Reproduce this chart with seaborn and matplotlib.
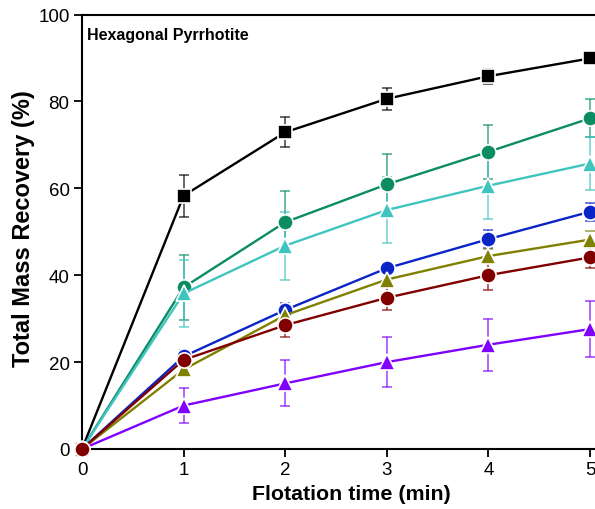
import numpy as np
import pandas as pd
import matplotlib
matplotlib.use('Agg')
import matplotlib.pyplot as plt
import seaborn as sns

# ── Data ─────────────────────────────────────────────────────
time_min = [0, 1, 2, 3, 4, 5]

black_y   = [0, 58.3, 72.9, 80.6, 85.8, 89.9]
black_err = [0, 4.8, 3.5, 2.5, 1.7, 1.1]

green_y   = [0, 37.2, 52.2, 60.9, 68.4, 76.1]
green_err = [0, 7.5, 7.2, 7.0, 6.2, 4.4]

cyan_y    = [0, 35.8, 46.8, 55.0, 60.6, 65.7]
cyan_err  = [0, 7.8, 7.8, 7.7, 7.6, 6.2]

blue_y    = [0, 21.3, 32.0, 41.6, 48.3, 54.6]
blue_err  = [0, 1.5, 1.5, 1.1, 2.0, 2.1]

olive_y   = [0, 18.3, 30.8, 39.0, 44.4, 48.2]
olive_err = [0, 1.2, 1.3, 1.5, 1.6, 2.0]

red_y     = [0, 20.5, 28.5, 34.8, 40.0, 44.1]
red_err   = [0, 1.5, 2.7, 2.9, 3.3, 2.4]

purple_y   = [0, 10.0, 15.1, 20.0, 24.0, 27.6]
purple_err = [0, 4.0, 5.3, 5.8, 6.0, 6.4]

series = [
    ('purple', purple_y, purple_err, '#8000ff', '^'),
    ('black',  black_y,  black_err,  '#000000', 's'),
    ('green',  green_y,  green_err,  '#0b8c62', 'o'),
    ('cyan',   cyan_y,   cyan_err,   '#40c4c0', '^'),
    ('blue',   blue_y,   blue_err,   '#0a24c8', 'o'),
    ('olive',  olive_y,  olive_err,  '#808000', '^'),
    ('red',    red_y,    red_err,    '#800000', 'o'),
]

# ── Style ────────────────────────────────────────────────────
sns.set_style('white')
plt.rcParams['font.family'] = ['Liberation Sans', 'DejaVu Sans']
plt.rcParams['text.color'] = 'black'
plt.rcParams['axes.labelcolor'] = 'black'

fig = plt.figure(figsize=(5.95, 5.10), dpi=100)
# axis extends past the right edge of the picture (cropped like the reference)
ax = fig.add_axes([82 / 595, 60 / 510, 538.5 / 595, 434.5 / 510])

for name, yv, err, col, mk in series:
    ax.errorbar(time_min, yv, yerr=err, fmt='none', ecolor=col, alpha=0.6,
                elinewidth=1.4, capsize=3.5, capthick=1.4, clip_on=False, zorder=2)
    sns.lineplot(x=time_min, y=yv, ax=ax, color=col, marker=mk,
                 markersize=11 if mk != 's' else 10,
                 markeredgecolor='white', markeredgewidth=1.2,
                 linewidth=1.7, clip_on=False, zorder=3)

ax.set_xlim(0, 5.3)
ax.set_ylim(0, 100)
ax.set_xticks([0, 1, 2, 3, 4, 5])
ax.set_yticks([0, 20, 40, 60, 80, 100])

for side in ['left', 'bottom', 'top']:
    ax.spines[side].set_linewidth(1.5)
    ax.spines[side].set_color('black')
ax.spines['right'].set_visible(False)

ax.tick_params(axis='both', which='major', direction='out', length=6, width=1.3,
               labelsize=13.5, colors='black', pad=3,
               bottom=True, left=True, top=False, right=False)

ax.set_xlabel('Flotation time (min)', fontsize=15.4, fontweight='bold', labelpad=4)
ax.set_ylabel('Total Mass Recovery (%)', fontsize=17, fontweight='bold')
ax.yaxis.set_label_coords(-0.088, 0.51)

ax.text(0.05, 95.5, 'Hexagonal Pyrrhotite', fontsize=11.5, fontweight='bold',
        color='black', ha='left', va='center', transform=ax.transData)

fig.savefig('out.png', dpi=100)
plt.close(fig)
